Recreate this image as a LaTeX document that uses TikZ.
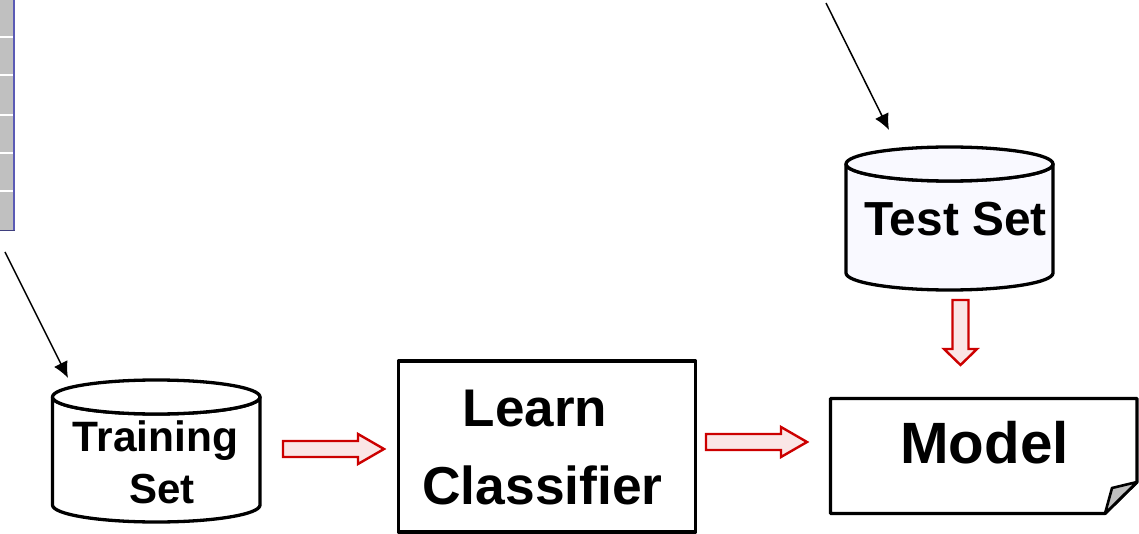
\documentclass[tikz,border=0pt]{standalone}
\usepackage{fontspec}
\setmainfont{Liberation Sans}
\usetikzlibrary{arrows.meta}
\definecolor{hollowred}{HTML}{CC0000}
\definecolor{hollowfill}{HTML}{FAE6E6}
\definecolor{tablegray}{HTML}{C0C0C0}
\definecolor{tableblue}{HTML}{5A5AB4}
\definecolor{lavender}{HTML}{F9F9FF}
\tikzset{
  x=1pt,y=-1pt,
  outline/.style={draw=black,line width=3.3pt,line join=round},
  blockarrow/.style={draw=hollowred,fill=hollowfill,line width=2.4pt,line join=miter},
  pointer/.style={draw=black,line width=1.5pt,-{Latex[length=16pt,width=15pt]}},
  label/.style={inner sep=0pt,font=\bfseries,text=black},
}
\newcommand{\cyl}[6]{%
  % x-left, x-right, top-centre y, bottom-side y, fill
  \path[outline,fill=#5] (#1,#3) -- (#1,#4) arc[start angle=180,end angle=0,x radius={(#2-#1)/2},y radius=17] -- (#2,#3) arc[start angle=0,end angle=180,x radius={(#2-#1)/2},y radius=17] -- cycle;
  \path[outline,fill=#5] ({(#1+#2)/2},#3) ellipse[x radius={(#2-#1)/2},y radius=17];
  \coordinate (#6) at ({(#1+#2)/2},#3);
}
\begin{document}
\begin{tikzpicture}
\useasboundingbox (0,0) rectangle (1139,534);
% data table, cut off by the left edge
\fill[tablegray] (0,0) rectangle (14,230);
\foreach \yy in {37,75,115,153,191}{\fill[white] (0,\yy-0.6) rectangle (13,\yy+0.6);}
\fill[tableblue] (13,0) rectangle (15,231);
\fill[tableblue!70!black] (0,229.7) rectangle (15,231);
% cylinders
\cyl{52.5}{260}{397}{505}{white}{trainingtop}
\cyl{846}{1053}{164}{273}{lavender}{testtop}
% boxes
\node[outline,fill=white,minimum width=297pt,minimum height=171pt,inner sep=0pt,outer sep=0pt] (learn) at (547,446.5) {};
\path[outline,fill=white] (830.5,398.5) -- (1137,398.5) -- (1137,482) -- (1105,513.5) -- (830.5,513.5) -- cycle;
\path[outline,line width=2.6pt,fill=tablegray] (1137,482) -- (1112,488) -- (1105,513.5) -- cycle;
% free ends of pointers
\coordinate (trainfrom) at (5,252);
\coordinate (testfrom) at (826,3);
\coordinate (trainto) at (68,378);
\coordinate (testto) at (889,130);
\draw[pointer] (trainfrom) -- (trainto);
\draw[pointer] (testfrom) -- (testto);
% block arrows
\draw[blockarrow] (283,441) -- (358,441) -- (358,434) -- (384,449) -- (358,464) -- (358,457) -- (283,457) -- cycle;
\draw[blockarrow] (706,434) -- (781,434) -- (781,427) -- (807,442) -- (781,457) -- (781,450) -- (706,450) -- cycle;
\draw[blockarrow] (952.5,300) -- (968.5,300) -- (968.5,349) -- (977,349) -- (960.5,365) -- (944,349) -- (952.5,349) -- cycle;
% labels
\node[label,font=\bfseries\fontsize{42.5}{46}\selectfont] (training) at (155.5,441) {Training};
\node[label,font=\bfseries\fontsize{42}{46}\selectfont] (set) at (162,489) {Set};
\node[label,font=\bfseries\fontsize{47.8}{52}\selectfont] (test) at (955.5,219) {Test Set};
\node[label,font=\bfseries\fontsize{53}{57}\selectfont] (learntext) at (535,409) {Learn};
\node[label,font=\bfseries\fontsize{53.4}{57}\selectfont] (classifier) at (542.5,485) {Classifier};
\node[label,font=\bfseries\fontsize{58.3}{62}\selectfont] (model) at (984.5,443) {Model};
\end{tikzpicture}
\end{document}
